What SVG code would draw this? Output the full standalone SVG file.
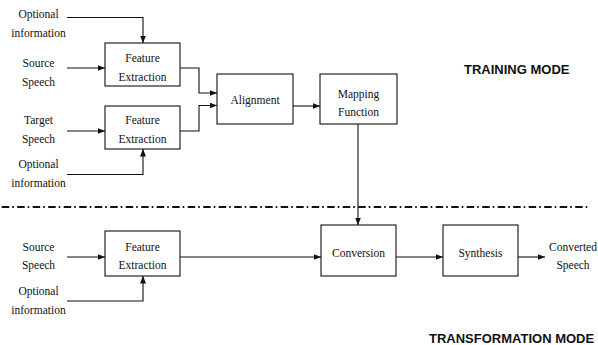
<svg xmlns="http://www.w3.org/2000/svg" width="598" height="345" viewBox="0 0 598 345">
<style>
.box{fill:#fff;stroke:#111;stroke-width:1.1}
.t{font-family:"Liberation Serif","Times New Roman",serif;font-size:11.5px;fill:#111;text-anchor:middle}
.mode{font-family:"Liberation Sans",Arial,sans-serif;font-size:13px;font-weight:bold;fill:#111}
.c{fill:none;stroke:#111;stroke-width:1.1}
.sep{fill:none;stroke:#111;stroke-width:2.2;stroke-dasharray:7.5 3 1.6 3.4}
</style>
<defs>
<marker id="ah" markerUnits="userSpaceOnUse" markerWidth="8" markerHeight="6" refX="7.5" refY="3" orient="auto">
<path d="M0,0 L7.5,3 L0,6 z" fill="#111"/>
</marker>
</defs>
<rect width="598" height="345" fill="#fff"/>
<g id="connectors">
<path class="c" d="M67,17.5 H143 V43" marker-end="url(#ah)"/>
<path class="c" d="M67,68 H105" marker-end="url(#ah)"/>
<path class="c" d="M67,131 H105" marker-end="url(#ah)"/>
<path class="c" d="M67,174.5 H143 V149" marker-end="url(#ah)"/>
<path class="c" d="M180,68 H199 V93 H217" marker-end="url(#ah)"/>
<path class="c" d="M180,131 H199 V105.5 H217" marker-end="url(#ah)"/>
<path class="c" d="M293,106 H320" marker-end="url(#ah)"/>
<path class="c" d="M358,124 V225" marker-end="url(#ah)"/>
<path class="c" d="M67,257 H105" marker-end="url(#ah)"/>
<path class="c" d="M67,301 H143 V276" marker-end="url(#ah)"/>
<path class="c" d="M180,257 H321" marker-end="url(#ah)"/>
<path class="c" d="M396,257 H443" marker-end="url(#ah)"/>
<path class="c" d="M518,257 H545" marker-end="url(#ah)"/>
</g>
<path id="separator" class="sep" d="M1.7,207 H590"/>
<g id="opt1"><text class="t" x="38.5" y="17.5">Optional</text><text class="t" x="38.5" y="36.5">information</text></g>
<g id="src1"><text class="t" x="38.5" y="67">Source</text><text class="t" x="38.5" y="85.5">Speech</text></g>
<g id="tgt"><text class="t" x="38.5" y="124">Target</text><text class="t" x="38.5" y="142.5">Speech</text></g>
<g id="opt2"><text class="t" x="38.5" y="168">Optional</text><text class="t" x="38.5" y="187">information</text></g>
<g id="fe1"><rect class="box" x="105" y="43" width="75" height="43"/><text class="t" x="142.5" y="61.5">Feature</text><text class="t" x="142.5" y="80.5">Extraction</text></g>
<g id="fe2"><rect class="box" x="105" y="106" width="75" height="43"/><text class="t" x="142.5" y="124">Feature</text><text class="t" x="142.5" y="143">Extraction</text></g>
<g id="align"><rect class="box" x="217" y="74" width="76" height="50"/><text class="t" x="255" y="104">Alignment</text></g>
<g id="map"><rect class="box" x="320" y="74" width="77" height="50"/><text class="t" x="358.5" y="97.5">Mapping</text><text class="t" x="358.5" y="116">Function</text></g>
<g id="src3"><text class="t" x="38.5" y="250.5">Source</text><text class="t" x="38.5" y="269">Speech</text></g>
<g id="opt3"><text class="t" x="38.5" y="295">Optional</text><text class="t" x="38.5" y="314">information</text></g>
<g id="fe3"><rect class="box" x="105" y="231" width="75" height="45"/><text class="t" x="142.5" y="250.5">Feature</text><text class="t" x="142.5" y="269">Extraction</text></g>
<g id="conv"><rect class="box" x="321" y="225" width="75" height="51"/><text class="t" x="358.5" y="256.5">Conversion</text></g>
<g id="synth"><rect class="box" x="443" y="225" width="75" height="51"/><text class="t" x="480.5" y="256.5">Synthesis</text></g>
<g id="out"><text class="t" x="573" y="250.5">Converted</text><text class="t" x="573" y="269">Speech</text></g>
<text class="mode" x="464" y="74">TRAINING MODE</text>
<text class="mode" x="429" y="343">TRANSFORMATION MODE</text>
</svg>
